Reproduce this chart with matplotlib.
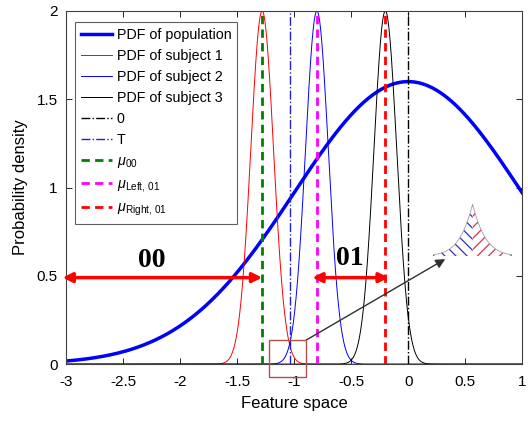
import numpy as np
import matplotlib
matplotlib.use("Agg")
import matplotlib.pyplot as plt
from matplotlib.patches import Rectangle

plt.rcParams['font.family'] = ['Liberation Sans', 'DejaVu Sans']
plt.rcParams['mathtext.fontset'] = 'custom'
plt.rcParams['mathtext.rm'] = 'Liberation Sans'
plt.rcParams['mathtext.it'] = 'Liberation Sans:italic'
plt.rcParams['hatch.linewidth'] = 0.9

# Gaussian parameters
pop_mean, pop_std, pop_peak = 0.0, 1.0, 1.6
subj_means = [-1.28, -0.8, -0.2]
subj_std = 0.1
subj_peak = 2.0
subj_colors = ['red', 'blue', 'black']
subj_labels = ['PDF of subject 1', 'PDF of subject 2', 'PDF of subject 3']

zero_line = 0.0
T_line = -1.04
mu00 = -1.28
mu_left01 = -0.8
mu_right01 = -0.2

xticks = [-3, -2.5, -2, -1.5, -1, -0.5, 0, 0.5, 1]
xtick_labels = ['-3', '-2.5', '-2', '-1.5', '-1', '-0.5', '0', '0.5', '1']
yticks = [0, 0.5, 1, 1.5, 2]
ytick_labels = ['0', '0.5', '1', '1.5', '2']


def gauss(x, m, s, peak):
    return peak * np.exp(-(x - m) ** 2 / (2 * s ** 2))


fig = plt.figure(figsize=(5.28, 4.21), dpi=100)
ax = fig.add_axes([0.125, 0.135, 0.864, 0.839])

x = np.linspace(-3, 1, 3000)
ax.plot(x, gauss(x, pop_mean, pop_std, pop_peak), color='blue', lw=2.5, label='PDF of population')
for m, c, lab in zip(subj_means, subj_colors, subj_labels):
    ax.plot(x, gauss(x, m, subj_std, subj_peak), color=c, lw=0.7, label=lab)

dd = (3.0, 1.9)
ax.plot([zero_line, zero_line], [0, 2], color='black', lw=1.0, ls='-.', label='0')
ax.plot([T_line, T_line], [0, 2], color='#2020d0', lw=1.0, ls='-.', label='T')
ax.plot([mu00, mu00], [0, 2], color='#008000', lw=2.0, ls=(0, dd), label=r'$\mu_{00}$')
ax.plot([mu_left01, mu_left01], [0, 2], color='magenta', lw=2.0, ls=(0, dd), label=r'$\mu_{\mathrm{Left,\,01}}$')
ax.plot([mu_right01, mu_right01], [0, 2], color='red', lw=2.0, ls=(0, dd), label=r'$\mu_{\mathrm{Right,\,01}}$')

# arrows
ax.annotate('', xy=(-3.03, 0.49), xytext=(mu00, 0.49),
            arrowprops=dict(arrowstyle='<|-|>', color='red', lw=2.5, mutation_scale=14,
                            shrinkA=0, shrinkB=0), annotation_clip=False)
ax.annotate('', xy=(-0.84, 0.49), xytext=(-0.17, 0.49),
            arrowprops=dict(arrowstyle='<|-|>', color='red', lw=2.5, mutation_scale=14,
                            shrinkA=0, shrinkB=0))
ax.text(-2.25, 0.585, '00', fontsize=20, fontweight='bold', family='Liberation Serif',
        ha='center', va='center')
ax.text(-0.51, 0.60, '01', fontsize=20, fontweight='bold', family='Liberation Serif',
        ha='center', va='center')

# zoom box and pointer
ax.add_patch(Rectangle((-1.22, -0.074), 0.325, 0.21, fill=False, edgecolor='#b05050',
                       lw=1.0, clip_on=False, zorder=5))
ax.annotate('', xy=(0.325, 0.595), xytext=(-0.895, 0.136),
            arrowprops=dict(arrowstyle='-|>', color='#303030', lw=1.0, mutation_scale=14,
                            shrinkA=0, shrinkB=0))

ax.set_xlim(-3, 1)
ax.set_ylim(0, 2)
ax.set_xticks(xticks)
ax.set_xticklabels(xtick_labels)
ax.set_yticks(yticks)
ax.set_yticklabels(ytick_labels)
ax.tick_params(direction='in', top=True, right=True, labelsize=11, length=4, width=0.6)
ax.tick_params(axis='x', pad=8)
ax.tick_params(axis='y', pad=6)
for sp in ax.spines.values():
    sp.set_linewidth(0.8)
    sp.set_color('#404040')
ax.set_xlabel('Feature space', fontsize=12, labelpad=5)
ax.set_ylabel('Probability density', fontsize=12, labelpad=6)

leg = ax.legend(loc='upper left', bbox_to_anchor=(0.02, 0.968), fontsize=10.3,
                handlelength=2.2, labelspacing=0.49, borderaxespad=0, fancybox=False,
                framealpha=1, edgecolor='#606060', handletextpad=0.3, borderpad=0.4)
leg.get_frame().set_linewidth(0.8)

# inset showing the overlap region
ins = fig.add_axes([0.82, 0.392, 0.15, 0.125])
xi = np.linspace(-1.165, -0.915, 600)
red = gauss(xi, subj_means[0], subj_std, subj_peak)
blu = gauss(xi, subj_means[1], subj_std, subj_peak)
env = np.minimum(red, blu)
ins.plot(xi, env, color='#a0a0a0', lw=0.6)
ins.plot([xi[0], xi[-1]], [0, 0], color='#a0a0a0', lw=0.8)
left = xi <= T_line
right = xi >= T_line
ins.fill_between(xi[left], 0, env[left], facecolor='none', edgecolor='#3030c0', hatch='\\\\\\', lw=0)
ins.fill_between(xi[right], 0, env[right], facecolor='none', edgecolor='#e03050', hatch='///', lw=0)
ins.set_xlim(xi[0], xi[-1])
ins.set_ylim(0, env.max() * 1.02)
ins.axis('off')

fig.savefig('out.png', dpi=100)
